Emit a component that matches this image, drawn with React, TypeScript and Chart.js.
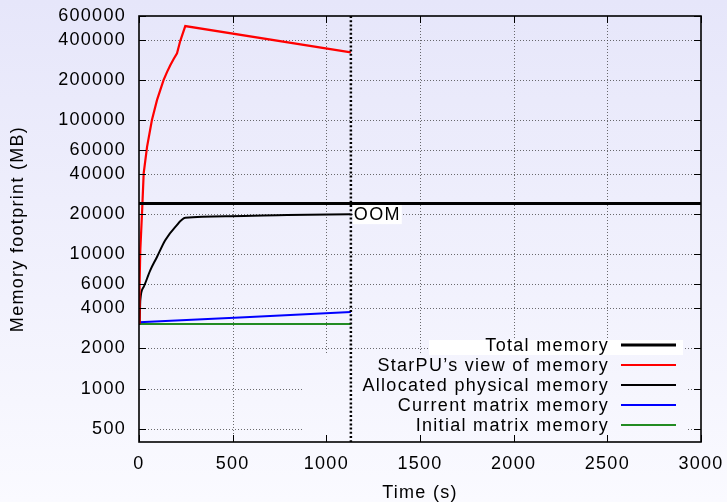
import React, { useEffect, useRef } from 'react';
import { Chart, registerables } from 'chart.js';

Chart.register(...registerables);

// ---------- data ----------
const xTickValues = [0, 500, 1000, 1500, 2000, 2500, 3000];
const yTickValues = [500, 1000, 2000, 4000, 6000, 10000, 20000, 40000, 60000, 100000, 200000, 400000, 600000];

const totalTime = [0, 3000];
const totalMem = [24000, 24000];

const starpuTime = [0, 3, 7, 16, 25, 43, 69, 96, 131, 150, 167, 185, 203, 220, 247, 1131];
const starpuMem = [3100, 6000, 10800, 20200, 40200, 63500, 100500, 141600, 199500, 230000, 258000, 287000, 316000, 390000, 505000, 321000];

const allocTime = [0, 3, 7, 25, 60, 96, 140, 194, 247, 487, 790, 1128];
const allocMem = [3030, 3055, 4560, 5730, 7620, 9590, 12770, 16060, 18760, 19300, 19700, 19950];

const currentTime = [0, 565, 1131];
const currentMem = [3120, 3410, 3725];

const initialTime = [0, 1131];
const initialMem = [3030, 3030];

const seriesLabels = [
  'Total memory',
  "StarPU\u2019s view of memory",
  'Allocated physical memory',
  'Current matrix memory',
  'Initial matrix memory',
];

const oomTime = 1131;
const oomLabelValue = 20000;
const oomLabel = 'OOM';

const FONT_FAMILY = '"Liberation Sans", Arial, Helvetica, sans-serif';
const FONT_SIZE = 18;
const BG_TOP = 'rgb(230,230,250)';
const BG_BOTTOM = 'rgb(250,250,255)';

const toPoints = (t: number[], v: number[]) => t.map((x, i) => ({ x, y: v[i] }));

function makeGradient(ctx: CanvasRenderingContext2D, h: number) {
  const g = ctx.createLinearGradient(0, 0, 0, h);
  g.addColorStop(0, BG_TOP);
  g.addColorStop(1, BG_BOTTOM);
  return g;
}

const gnuplotPlugin = {
  id: 'gnuplotStyle',
  beforeDraw(chart: any) {
    const { ctx, width, height } = chart;
    ctx.save();
    ctx.fillStyle = makeGradient(ctx, height);
    ctx.fillRect(0, 0, width, height);
    ctx.restore();
    (ctx as any).letterSpacing = '1.3px';
  },
  beforeDatasetsDraw(chart: any) {
    const { ctx } = chart;
    const { left, right, top, bottom } = chart.chartArea;
    const xs = chart.scales.x;
    const ys = chart.scales.y;
    ctx.save();
    ctx.strokeStyle = 'rgba(60,60,60,0.75)';
    ctx.lineWidth = 1;
    ctx.setLineDash([1, 2]);
    xTickValues.forEach((v) => {
      const px = Math.round(xs.getPixelForValue(v)) + 0.5;
      if (px <= left + 2 || px >= right - 2) return;
      ctx.beginPath();
      ctx.moveTo(px, top);
      ctx.lineTo(px, bottom);
      ctx.stroke();
    });
    yTickValues.forEach((v) => {
      const py = Math.round(ys.getPixelForValue(v)) + 0.5;
      if (py <= top + 2 || py >= bottom - 2) return;
      ctx.beginPath();
      ctx.moveTo(left, py);
      ctx.lineTo(right, py);
      ctx.stroke();
    });
    ctx.restore();
  },
  afterDatasetsDraw(chart: any) {
    const { ctx, height } = chart;
    const { left, right, top, bottom } = chart.chartArea;
    const xs = chart.scales.x;
    const ys = chart.scales.y;
    const font = `${FONT_SIZE}px ${FONT_FAMILY}`;

    // legend background (covers grid)
    ctx.save();
    ctx.fillStyle = makeGradient(ctx, height);
    ctx.fillRect(right - 399, bottom - 87, 386, 80);
    ctx.fillStyle = '#ffffff';
    ctx.fillRect(right - 272, bottom - 102, 254, 15);
    ctx.restore();

    // OOM marker
    const oomPx = xs.getPixelForValue(oomTime);
    ctx.save();
    ctx.strokeStyle = '#000';
    ctx.lineWidth = 2.5;
    ctx.setLineDash([2, 2.2]);
    ctx.beginPath();
    ctx.moveTo(oomPx, top);
    ctx.lineTo(oomPx, bottom);
    ctx.stroke();
    ctx.setLineDash([]);
    ctx.font = font;
    const oy = ys.getPixelForValue(oomLabelValue);
    const w = ctx.measureText(oomLabel).width;
    ctx.fillStyle = '#fff';
    ctx.fillRect(oomPx + 2, oy - 9, w + 2, 19);
    ctx.fillStyle = '#000';
    ctx.textAlign = 'left';
    ctx.textBaseline = 'middle';
    ctx.fillText(oomLabel, oomPx + 3, oy + 1);
    ctx.restore();

    // tick marks (inward, mirrored)
    ctx.save();
    ctx.strokeStyle = '#000';
    ctx.lineWidth = 1;
    const tl = 7;
    xTickValues.forEach((v) => {
      const px = Math.round(xs.getPixelForValue(v)) + 0.5;
      ctx.beginPath();
      ctx.moveTo(px, bottom);
      ctx.lineTo(px, bottom - tl);
      ctx.moveTo(px, top);
      ctx.lineTo(px, top + tl);
      ctx.stroke();
    });
    yTickValues.forEach((v) => {
      const py = Math.round(ys.getPixelForValue(v)) + 0.5;
      ctx.beginPath();
      ctx.moveTo(left, py);
      ctx.lineTo(left + tl, py);
      ctx.moveTo(right, py);
      ctx.lineTo(right - tl, py);
      ctx.stroke();
    });
    // border
    ctx.lineWidth = 1.6;
    ctx.strokeRect(left, top, right - left, bottom - top);
    ctx.restore();

    // legend entries
    ctx.save();
    ctx.font = font;
    ctx.textAlign = 'right';
    ctx.textBaseline = 'middle';
    const ds = chart.data.datasets;
    const textRight = right - 92;
    const x0 = right - 80;
    const x1 = right - 25;
    ds.forEach((d: any, i: number) => {
      const y = bottom - 97 + i * 20;
      ctx.fillStyle = '#000';
      ctx.fillText(d.label, textRight, y + 1);
      ctx.strokeStyle = d.borderColor;
      ctx.lineWidth = d.borderWidth;
      ctx.beginPath();
      ctx.moveTo(x0, y);
      ctx.lineTo(x1, y);
      ctx.stroke();
    });
    ctx.restore();
  },
};

export default function App() {
  const canvasRef = useRef<HTMLCanvasElement | null>(null);

  useEffect(() => {
    if (!canvasRef.current) return;
    const common = { pointRadius: 0, fill: false, tension: 0 };
    const chart = new Chart(canvasRef.current, {
      type: 'line',
      data: {
        datasets: [
          { ...common, label: seriesLabels[0], data: toPoints(totalTime, totalMem), borderColor: '#000000', borderWidth: 3 },
          { ...common, label: seriesLabels[1], data: toPoints(starpuTime, starpuMem), borderColor: '#ff0000', borderWidth: 2.2 },
          { ...common, label: seriesLabels[2], data: toPoints(allocTime, allocMem), borderColor: '#000000', borderWidth: 2, cubicInterpolationMode: 'monotone' },
          { ...common, label: seriesLabels[3], data: toPoints(currentTime, currentMem), borderColor: '#0000ff', borderWidth: 2 },
          { ...common, label: seriesLabels[4], data: toPoints(initialTime, initialMem), borderColor: '#228b22', borderWidth: 2 },
        ],
      },
      options: {
        animation: false,
        responsive: false,
        events: [],
        layout: { padding: { top: 16, right: 26, left: 0, bottom: 0 } },
        plugins: { legend: { display: false }, tooltip: { enabled: false } },
        scales: {
          x: {
            type: 'linear',
            min: 0,
            max: 3000,
            grid: { display: false, drawTicks: false },
            border: { display: false },
            afterBuildTicks: (scale: any) => {
              scale.ticks = xTickValues.map((v) => ({ value: v }));
            },
            afterFit: (scale: any) => {
              scale.height = 60;
              scale.paddingLeft = 0;
              scale.paddingRight = 0;
              scale.paddingTop = 0;
              scale.paddingBottom = 0;
            },
            ticks: {
              autoSkip: false,
              maxRotation: 0,
              padding: 11,
              color: '#000',
              font: { family: FONT_FAMILY, size: FONT_SIZE },
              callback: (v: any) => String(v),
            },
            title: {
              display: true,
              text: 'Time (s)',
              color: '#000',
              font: { family: FONT_FAMILY, size: FONT_SIZE },
              padding: { top: 0, bottom: -2 },
            },
          },
          y: {
            type: 'logarithmic',
            min: 400,
            max: 600000,
            grid: { display: false, drawTicks: false },
            border: { display: false },
            afterBuildTicks: (scale: any) => {
              scale.ticks = yTickValues.map((v) => ({ value: v }));
            },
            afterFit: (scale: any) => {
              scale.width = 139;
              scale.paddingLeft = 0;
              scale.paddingRight = 0;
              scale.paddingTop = 0;
              scale.paddingBottom = 0;
            },
            ticks: {
              autoSkip: false,
              padding: 13,
              color: '#000',
              font: { family: FONT_FAMILY, size: FONT_SIZE },
              callback: (v: any) => String(v),
            },
            title: {
              display: true,
              text: 'Memory footprint (MB)',
              color: '#000',
              font: { family: FONT_FAMILY, size: FONT_SIZE },
              padding: { top: 7, bottom: 0 },
            },
          },
        },
      },
      plugins: [gnuplotPlugin],
    } as any);
    return () => chart.destroy();
  }, []);

  return (
    <div style={{ position: 'fixed', left: 0, top: 0, width: 727, height: 502, background: `linear-gradient(${BG_TOP}, ${BG_BOTTOM})` }}>
      <canvas ref={canvasRef} width={727} height={502} style={{ display: 'block', width: 727, height: 502 }} />
    </div>
  );
}
